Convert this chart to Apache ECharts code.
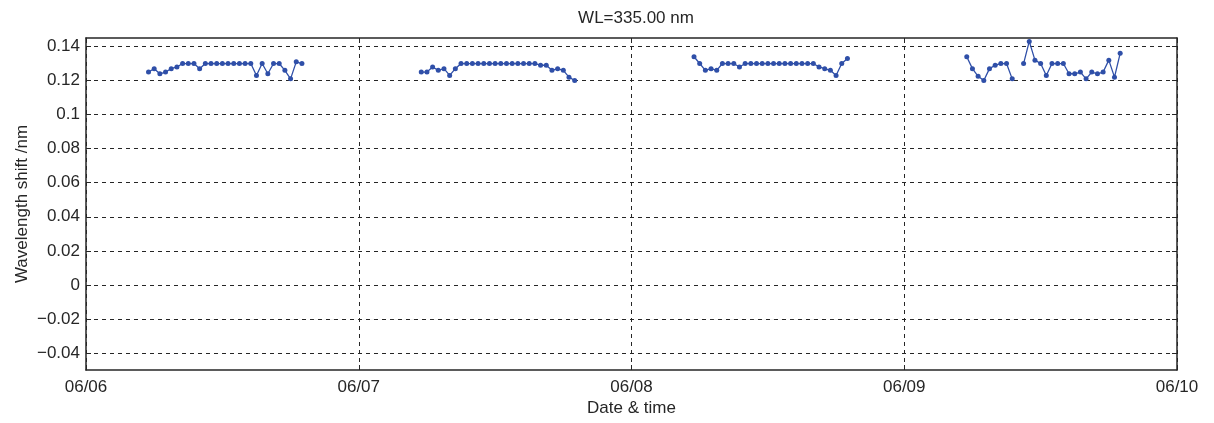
<!DOCTYPE html>
<html><head><meta charset="utf-8">
<script src="https://cdn.jsdelivr.net/npm/echarts@6/dist/echarts.min.js"></script>
<style>html,body{margin:0;padding:0;background:#fff}#c{width:1214px;height:423px}</style>
</head><body><div id="c"></div>
<script>
const titleText = 'WL=335.00 nm';
const dayLabels = ['06/06', '06/07', '06/08', '06/09', '06/10'];
const yTicks = [-0.04, -0.02, 0, 0.02, 0.04, 0.06, 0.08, 0.1, 0.12, 0.14];
const startHour = 5.5;   // first sample each day, 05:30
const stepHour = 0.5;    // samples every 30 min
const day1 = [0.125,0.127,0.124,0.125,0.127,0.128,0.130,0.130,0.130,0.127,0.130,0.130,0.130,0.130,0.130,0.130,0.130,0.130,0.130,0.123,0.130,0.124,0.130,0.130,0.126,0.121,0.131,0.130];
const day2 = [0.125,0.125,0.128,0.126,0.127,0.123,0.127,0.130,0.130,0.130,0.130,0.130,0.130,0.130,0.130,0.130,0.130,0.130,0.130,0.130,0.130,0.129,0.129,0.126,0.127,0.126,0.122,0.120];
const day3 = [0.134,0.130,0.126,0.127,0.126,0.130,0.130,0.130,0.128,0.130,0.130,0.130,0.130,0.130,0.130,0.130,0.130,0.130,0.130,0.130,0.130,0.130,0.128,0.127,0.126,0.123,0.130,0.133];
const day4 = [0.134,0.127,0.1225,0.120,0.127,0.129,0.130,0.130,0.121,null,0.130,0.143,0.132,0.130,0.123,0.130,0.130,0.130,0.124,0.124,0.125,0.121,0.125,0.124,0.125,0.132,0.122,0.136];
const days = [day1, day2, day3, day4];

const seriesData = [];
days.forEach((vals, d) => {
  vals.forEach((v, i) => seriesData.push([d * 24 + startHour + i * stepHour, v]));
  seriesData.push([d * 24 + 23.9, null]);
});

const font = 'Liberation Sans, Arial, sans-serif';
const fs = 17;
const fmtY = v => {
  const r = Math.round(v * 100) / 100;
  const s = String(Math.abs(r));
  return (r < 0 ? '\u2212' : '') + s;
};
const frame = { show: true, onZero: false, lineStyle: { color: '#262626', width: 1.5 } };
const chart = echarts.init(document.getElementById('c'));
chart.setOption({
  animation: false,
  title: { text: titleText, left: 631, textAlign: 'center', top: 5,
    textStyle: { fontFamily: font, fontSize: fs, fontWeight: 'normal', color: '#262626' } },
  grid: { left: 86, right: 37, top: 38, bottom: 53 },
  xAxis: [{
    type: 'value', min: 0, max: 96, interval: 24,
    name: 'Date & time', nameLocation: 'middle', nameGap: 30, nameMoveOverlap: false,
    nameTextStyle: { fontFamily: font, fontSize: fs, color: '#262626' },
    axisLine: frame,
    axisTick: { inside: true, length: 5, lineStyle: { color: '#262626' } },
    axisLabel: { fontFamily: font, fontSize: fs, color: '#262626', margin: 9,
      formatter: v => dayLabels[Math.round(v / 24)] },
    splitLine: { show: true, lineStyle: { color: '#262626', type: [4, 4], width: 1 } }
  }, {
    type: 'value', position: 'top', min: 0, max: 96, interval: 24,
    axisLine: frame,
    axisTick: { inside: true, length: 5, lineStyle: { color: '#262626' } },
    axisLabel: { show: false }, splitLine: { show: false }
  }],
  yAxis: [{
    type: 'value', min: -0.05, max: 0.145,
    name: 'Wavelength shift /nm', nameLocation: 'middle', nameGap: 55, nameMoveOverlap: false,
    nameTextStyle: { fontFamily: font, fontSize: fs, color: '#262626' },
    axisLine: frame,
    axisTick: { inside: true, length: 5, customValues: yTicks, lineStyle: { color: '#262626' } },
    axisLabel: { fontFamily: font, fontSize: fs, color: '#262626', margin: 6,
      customValues: yTicks, formatter: fmtY },
    splitLine: { show: true, lineStyle: { color: '#262626', type: [4, 4], width: 1 } }
  }, {
    type: 'value', position: 'right', min: -0.05, max: 0.145,
    axisLine: frame,
    axisTick: { show: true, inside: true, length: 5, customValues: yTicks, lineStyle: { color: '#262626' } },
    axisLabel: { show: false }, splitLine: { show: false }
  }],
  series: [{
    type: 'line', data: seriesData, connectNulls: false,
    symbol: 'circle', symbolSize: 5, showSymbol: true,
    lineStyle: { color: '#2f4fa8', width: 1.3 },
    itemStyle: { color: '#2f4fa8' }
  }]
});
</script></body></html>
